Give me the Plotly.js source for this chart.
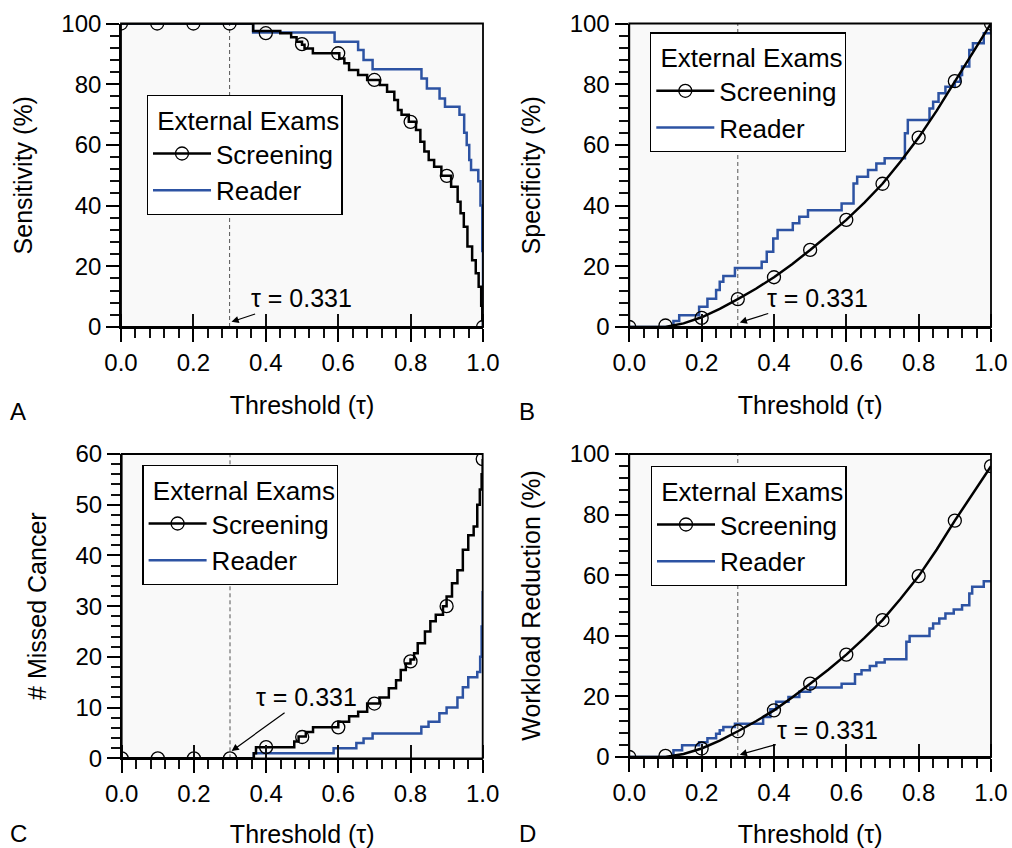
<!DOCTYPE html>
<html><head><meta charset="utf-8">
<script src="https://cdn.plot.ly/plotly-3.0.1.min.js"></script>
<style>html,body{margin:0;padding:0;background:#fff}#chart{width:1012px;height:848px}</style>
</head><body><div id="chart"></div>
<script>
// ---------- data ----------
const tauLabel = 'τ = 0.331';
const tauLine = 0.3;
const markX = [0, 0.1, 0.2, 0.3, 0.4, 0.5, 0.6, 0.7, 0.8, 0.9, 1.0];
const xTickVals = [0, 0.2, 0.4, 0.6, 0.8, 1.0];

// Panel A: Sensitivity
const sensScreenX = [0, 0.365, 0.44, 0.47, 0.485, 0.5, 0.507, 0.53, 0.603, 0.617, 0.63, 0.655, 0.68, 0.715, 0.735, 0.755, 0.765, 0.775, 0.795, 0.815, 0.827, 0.838, 0.85, 0.865, 0.885, 0.912, 0.93, 0.938, 0.947, 0.957, 0.97, 0.98, 0.988, 0.995, 0.998, 1.0];
const sensScreenY = [100, 97.5, 96.8, 95.5, 94, 93, 91.8, 90.2, 88.5, 86.9, 84.7, 83, 81.4, 79.7, 77.5, 74.8, 71.5, 69.9, 67.6, 64.9, 61, 57.8, 55, 52.8, 49.8, 46.2, 41.3, 37.5, 33, 26.5, 22, 17.7, 13.3, 7, 2.3, 0];
const sensScreenMarkY = [100, 100, 100, 100, 96.8, 93.2, 90.2, 81.4, 67.6, 49.8, 0];
const sensReaderX = [0, 0.365, 0.59, 0.655, 0.67, 0.695, 0.83, 0.845, 0.88, 0.895, 0.935, 0.948, 0.955, 0.962, 0.967, 0.987, 0.993, 0.998, 1.0];
const sensReaderY = [100, 97, 94, 91.3, 88, 84.9, 81.9, 78.6, 75.3, 72.6, 69.9, 64, 60, 55, 51.7, 48, 40, 25, 0];

// Panel B: Specificity
const specScreenX = [0, 0.1, 0.12, 0.15, 0.2, 0.25, 0.3, 0.35, 0.4, 0.45, 0.5, 0.55, 0.6, 0.65, 0.7, 0.75, 0.8, 0.85, 0.9, 0.95, 1.0];
const specScreenY = [0, 0, 0.5, 1.2, 3.2, 6, 9.2, 12.6, 16.4, 20.7, 25.4, 30.2, 35.3, 41, 47.2, 54.5, 62.4, 71.3, 81, 90.5, 100];
const specScreenMarkY = [0, 0.5, 3, 9.2, 16.4, 25.4, 35.3, 47.2, 62.4, 81, 100];
const specReaderX = [0, 0.122, 0.138, 0.193, 0.216, 0.24, 0.25, 0.26, 0.292, 0.366, 0.38, 0.398, 0.41, 0.452, 0.47, 0.494, 0.587, 0.62, 0.63, 0.66, 0.683, 0.706, 0.762, 0.77, 0.83, 0.84, 0.855, 0.874, 0.9, 0.915, 0.92, 0.94, 0.95, 0.98, 1.0];
const specReaderY = [0, 2, 3.9, 6.7, 9.3, 12.2, 14.9, 16.8, 19.4, 21.5, 24.8, 29.2, 32, 34.2, 36.3, 38.5, 40.7, 47.3, 49.5, 51.7, 53.9, 55.6, 63.8, 68.2, 72, 74.2, 77, 79.2, 80.8, 83, 85.8, 91.3, 93.5, 96.8, 100];

// Panel C: # Missed Cancer
const missScreenX = [0, 0.366, 0.372, 0.478, 0.49, 0.51, 0.53, 0.6, 0.63, 0.655, 0.68, 0.714, 0.74, 0.76, 0.773, 0.787, 0.8, 0.81, 0.82, 0.84, 0.855, 0.87, 0.89, 0.9, 0.915, 0.93, 0.945, 0.96, 0.975, 0.985, 0.992, 0.997, 1.0];
const missScreenY = [0, 1, 2.2, 3.3, 4.3, 5.2, 6.1, 7.2, 8.3, 9.2, 10.8, 12, 13.8, 15.4, 17.4, 18.7, 19.5, 20.7, 22.7, 25, 27, 28.3, 30, 31.9, 34.5, 37.1, 41.1, 44, 45.7, 50, 53, 56, 59];
const missScreenMarkY = [0, 0, 0, 0, 2.2, 4.2, 6.1, 10.8, 19.1, 30, 59];
const missReaderX = [0, 0.366, 0.587, 0.65, 0.67, 0.695, 0.83, 0.85, 0.88, 0.9, 0.93, 0.945, 0.96, 0.985, 0.993, 0.997, 1.0];
const missReaderY = [0, 1, 2, 3, 3.9, 4.9, 6.2, 7.2, 8.9, 10, 12, 14, 16, 17, 20, 26, 33];

// Panel D: Workload Reduction
const workScreenX = [0, 0.1, 0.12, 0.15, 0.2, 0.25, 0.3, 0.35, 0.4, 0.45, 0.5, 0.55, 0.6, 0.65, 0.7, 0.75, 0.8, 0.85, 0.9, 0.95, 1.0];
const workScreenY = [0, 0, 0.4, 1, 2.8, 5.4, 8.5, 11.8, 15.4, 19.6, 24.2, 28.8, 33.8, 39.3, 45.2, 52.2, 59.7, 68.5, 78, 87, 96];
const workScreenMarkY = [0, 0.4, 2.8, 8.5, 15.4, 24.2, 33.8, 45.2, 59.7, 78, 96];
const workReaderX = [0, 0.122, 0.146, 0.193, 0.216, 0.24, 0.25, 0.26, 0.292, 0.37, 0.39, 0.406, 0.44, 0.47, 0.5, 0.587, 0.624, 0.642, 0.665, 0.683, 0.706, 0.766, 0.775, 0.83, 0.84, 0.857, 0.874, 0.897, 0.92, 0.94, 0.948, 0.98, 1.0];
const workReaderY = [0, 2.2, 3.9, 4.9, 6.2, 7.7, 8.8, 9.9, 11, 13.2, 15.8, 18.2, 19.8, 21.5, 22.9, 24.2, 27.3, 28.6, 30, 31.2, 32.3, 38, 39.9, 42.4, 44.1, 45.7, 47.4, 48.7, 50.1, 54, 56.2, 58, 58];

// ---------- styling / layout ----------
const FONT = 'Liberation Sans, Arial, sans-serif';
const BLUE = '#2d53a3';
const panels = [
  {letter:'A', n:1, xDom:[121/1012, 483/1012], yDom:[(848-327)/848, (848-23.5)/848], yTitle:'Sensitivity (%)', yMax:100, yD:20, yM:4,
   sx:sensScreenX, sy:sensScreenY, smy:sensScreenMarkY, rx:sensReaderX, ry:sensReaderY, sShape:'hv',
   leg:[146.7/1012, 1-95/848], tauY:1.5, ax:72, ay:-24, letterPos:[18, 411]},
  {letter:'B', n:2, xDom:[629.3/1012, 991/1012], yDom:[(848-327)/848, (848-23.5)/848], yTitle:'Specificity (%)', yMax:100, yD:20, yM:4,
   sx:specScreenX, sy:specScreenY, smy:specScreenMarkY, rx:specReaderX, ry:specReaderY, sShape:'linear',
   leg:[650/1012, 1-32.3/848], tauY:1.3, ax:80, ay:-25, letterPos:[527, 411]},
  {letter:'C', n:3, xDom:[121.7/1012, 482.7/1012], yDom:[(848-758.3)/848, (848-454)/848], yTitle:'# Missed Cancer', yMax:60, yD:10, yM:2,
   sx:missScreenX, sy:missScreenY, smy:missScreenMarkY, rx:missReaderX, ry:missReaderY, sShape:'hv',
   leg:[142.3/1012, 1-465/848], tauY:1.2, ax:76, ay:-55, letterPos:[18, 833]},
  {letter:'D', n:4, xDom:[629.3/1012, 991/1012], yDom:[(848-757)/848, (848-454)/848], yTitle:'Workload Reduction (%)', yMax:100, yD:20, yM:4,
   sx:workScreenX, sy:workScreenY, smy:workScreenMarkY, rx:workReaderX, ry:workReaderY, sShape:'linear',
   leg:[650.7/1012, 1-466/848], tauY:0.6, ax:90, ay:-25, letterPos:[527, 833]}
];

const traces = [];
const layout = {
  width:1012, height:848, margin:{l:0,r:0,t:0,b:0},
  paper_bgcolor:'#ffffff', plot_bgcolor:'#f9f9f9',
  font:{family:FONT, size:24, color:'#000'},
  showlegend:true, shapes:[], annotations:[]
};

const tickAxis = (overlay, anchor, side, range, extra) => Object.assign({
  overlaying:overlay, anchor:anchor, side:side, range:range, fixedrange:true,
  showline:false, showgrid:false, zeroline:false, showticklabels:false, mirror:false
}, extra);

panels.forEach(p => {
  const xa = p.n === 1 ? 'x' : 'x' + p.n;
  const ya = p.n === 1 ? 'y' : 'y' + p.n;
  const xIn = 'x' + (p.n + 4), yIn = 'y' + (p.n + 4);
  const legName = p.n === 1 ? 'legend' : 'legend' + p.n;
  const xKey = p.n === 1 ? 'xaxis' : 'xaxis' + p.n;
  const yKey = p.n === 1 ? 'yaxis' : 'yaxis' + p.n;

  traces.push({x:[null], y:[null], xaxis:xa, yaxis:ya, mode:'lines+markers', name:'Screening', legend:legName,
    line:{color:'#000', width:2.5}, marker:{symbol:'circle-open', size:13, color:'#000', line:{width:1.3}}, hoverinfo:'skip'});
  traces.push({x:p.rx, y:p.ry, xaxis:xa, yaxis:ya, mode:'lines', name:'Reader', legend:legName,
    line:{color:BLUE, width:2.5, shape:'hv'}});
  traces.push({x:p.sx, y:p.sy, xaxis:xa, yaxis:ya, mode:'lines', name:'Screening', showlegend:false,
    line:{color:'#000', width:2.5, shape:p.sShape}});
  traces.push({x:markX, y:p.smy, xaxis:xa, yaxis:ya, mode:'markers', name:'Screening', showlegend:false,
    marker:{symbol:'circle-open', size:13, color:'#000', line:{width:1.3}}});
  [[xIn, ya], [xa, yIn]].forEach(([xx, yy]) =>
    traces.push({x:[], y:[], xaxis:xx, yaxis:yy, mode:'markers', showlegend:false, hoverinfo:'skip'}));

  layout[xKey] = {
    domain:p.xDom, anchor:ya, range:[0,1], fixedrange:true,
    showline:true, linecolor:'#000', linewidth:1.8, mirror:false,
    showgrid:false, zeroline:false,
    ticks:'outside', ticklen:13, tickwidth:2, tickcolor:'#000',
    tickvals:xTickVals, tickformat:'.1f', tickfont:{size:24},
    minor:{ticks:'outside', ticklen:9, dtick:0.04, tick0:0, tickwidth:2, tickcolor:'#111'},
    title:{text:'Threshold (τ)', font:{size:25}, standoff:22}
  };
  layout[yKey] = {
    domain:p.yDom, anchor:xa, range:[0,p.yMax], fixedrange:true,
    showline:true, linecolor:'#000', linewidth:1.8, mirror:false,
    showgrid:false, zeroline:false,
    ticks:'outside', ticklen:13, tickwidth:2, tickcolor:'#000',
    dtick:p.yD, tick0:0, tickfont:{size:24},
    minor:{ticks:'outside', ticklen:9, dtick:p.yM, tick0:0, tickwidth:2, tickcolor:'#111'},
    title:{text:p.yTitle, font:{size:25}, standoff:22}
  };
  // inside half of the major ticks
  layout['xaxis' + (p.n + 4)] = tickAxis(xa, ya, 'bottom', [0,1],
    {ticks:'', minor:{ticks:'inside', ticklen:13, tickvals:xTickVals, tickmode:'array', tickwidth:2, tickcolor:'#111'}});
  layout['yaxis' + (p.n + 4)] = tickAxis(ya, xa, 'left', [0,p.yMax],
    {ticks:'', minor:{ticks:'inside', ticklen:13, dtick:p.yD, tick0:0, tickwidth:2, tickcolor:'#111'}});

  layout[legName] = {
    x:p.leg[0], y:p.leg[1], xanchor:'left', yanchor:'top',
    bgcolor:'#ffffff', bordercolor:'#000', borderwidth:1.3,
    font:{size:26}, title:{text:' External Exams', font:{size:26}},
    traceorder:'normal', itemwidth:58, tracegroupgap:0
  };

  layout.shapes.push({type:'rect', xref:xa + ' domain', yref:ya + ' domain', x0:0, x1:1, y0:0, y1:1,
    line:{color:'#000', width:1.8}, fillcolor:'rgba(0,0,0,0)', layer:'above'});
  layout.shapes.push({type:'line', xref:xa, yref:ya + ' domain', x0:tauLine, x1:tauLine, y0:0, y1:1,
    line:{color:'#555', width:1, dash:'4px,3px'}, layer:'below'});
  layout.annotations.push({xref:xa, yref:ya, x:tauLine, y:p.tauY, text:tauLabel, showarrow:true,
    ax:p.ax, ay:p.ay, arrowhead:2, arrowsize:1.2, arrowwidth:1.2, arrowcolor:'#000', font:{size:25}, standoff:2});
  layout.annotations.push({xref:'paper', yref:'paper', x:p.letterPos[0]/1012, y:1-p.letterPos[1]/848,
    xanchor:'center', yanchor:'middle', text:p.letter, showarrow:false, font:{size:24}});
});

Plotly.newPlot('chart', traces, layout, {staticPlot:true, displayModeBar:false});
</script>
</body></html>
